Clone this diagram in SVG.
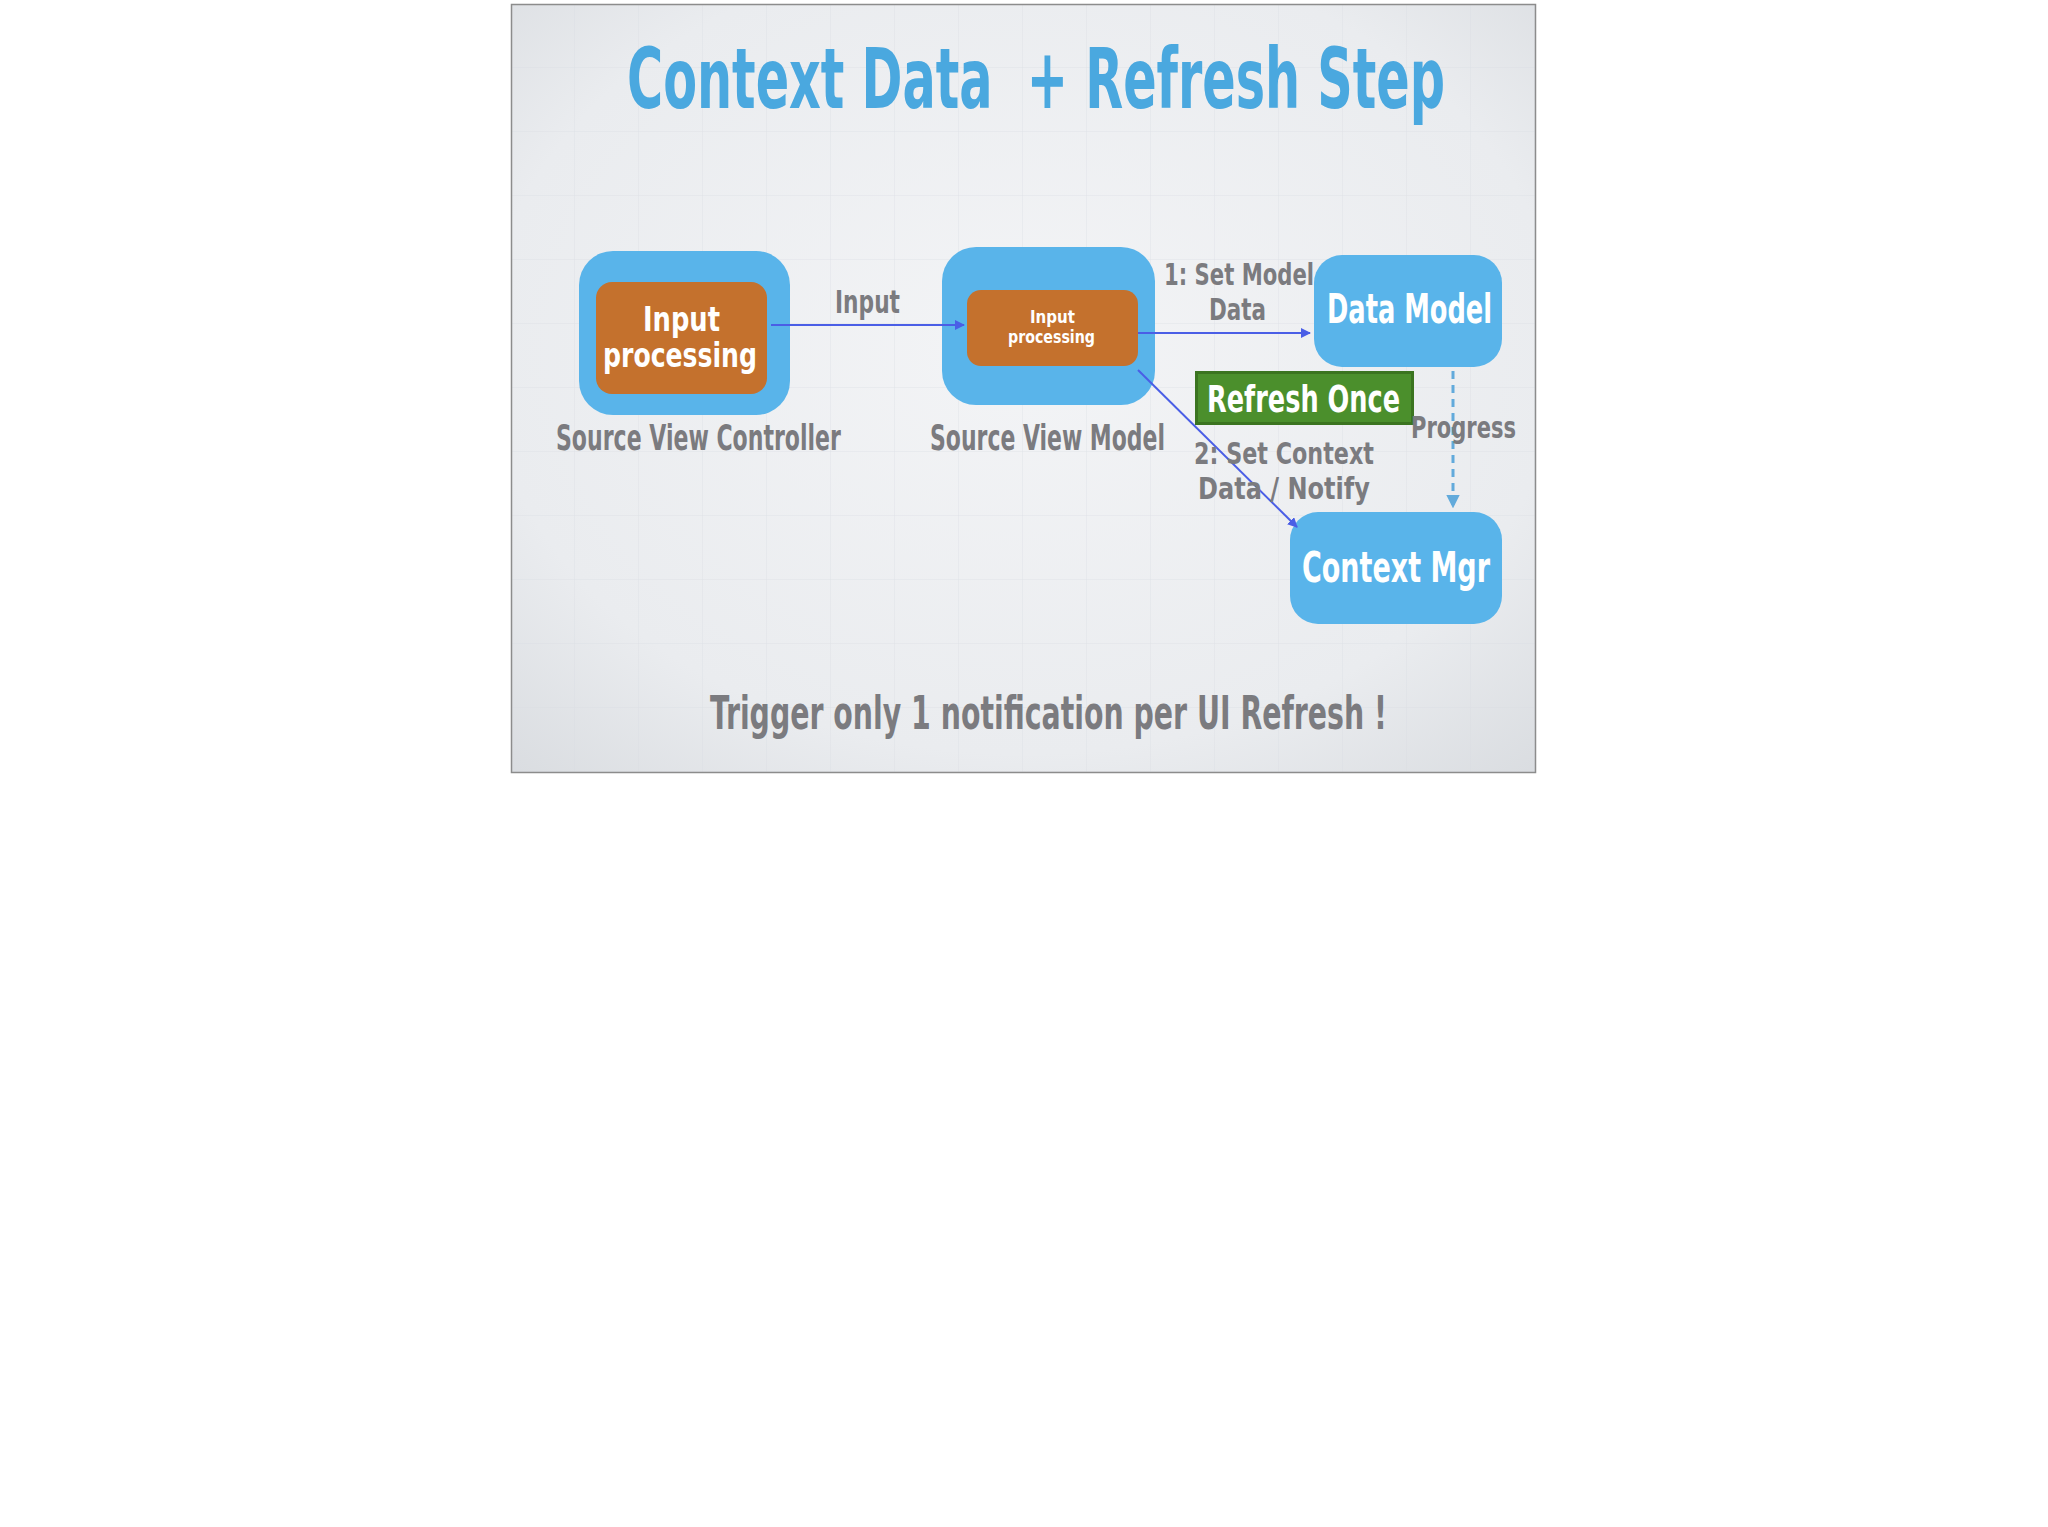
<svg xmlns="http://www.w3.org/2000/svg" width="2048" height="1527" viewBox="0 0 2048 1527">
  <defs>
    <radialGradient id="bg" cx="0.5" cy="0.45" r="0.75">
      <stop offset="0" stop-color="#f3f4f6"/>
      <stop offset="0.7" stop-color="#eaecef"/>
      <stop offset="1" stop-color="#d9dce0"/>
    </radialGradient>
    <pattern id="grid" width="64" height="64" patternUnits="userSpaceOnUse" x="511" y="4">
      <path d="M64 0V64M0 64H64" fill="none" stroke="#d6dadf" stroke-width="1" opacity="0.6"/>
    </pattern>
    <marker id="ah" viewBox="0 0 10 10" refX="9" refY="5" markerWidth="5" markerHeight="5" orient="auto" markerUnits="strokeWidth">
      <path d="M0 0L10 5L0 10z" fill="#4a5ee6"/>
    </marker>
    <marker id="ahd" viewBox="0 0 10 10" refX="9" refY="5" markerWidth="4.5" markerHeight="4.5" orient="auto" markerUnits="strokeWidth">
      <path d="M0 0L10 5L0 10z" fill="#62aadb"/>
    </marker>
  </defs>
  <style>
    text { font-family: "Liberation Sans Narrow", "DejaVu Sans Condensed", "Liberation Sans", sans-serif; font-weight: bold; }
    .blue { fill: #59b4ea; }
    .orange { fill: #c4712d; }
    .white { fill: #ffffff; }
    .gray { fill: #7b7b7f; }
    .title { fill: #4aa8df; }
    .conn { stroke: #4a5ee6; stroke-width: 2; fill: none; }
    .dash { stroke: #62aadb; stroke-width: 3; stroke-dasharray: 8 6; fill: none; }
  </style>
  <rect x="0" y="0" width="2048" height="1527" fill="#ffffff"/>
  <rect x="511" y="4" width="1025" height="769" fill="url(#bg)"/>
  <rect x="511" y="4" width="1025" height="769" fill="url(#grid)"/>
  <rect x="511.5" y="4.5" width="1024" height="768" fill="none" stroke="#8c8c8c" stroke-width="1.5"/>

  <text class="title" x="627" y="108" font-size="84" textLength="818" lengthAdjust="spacingAndGlyphs" xml:space="preserve">Context Data  + Refresh Step</text>

  <g id="svc">
    <rect class="blue" x="579" y="251" width="211" height="164" rx="34"/>
    <rect class="orange" x="596" y="282" width="171" height="112" rx="16"/>
    <text class="white" x="681.5" y="331" font-size="33" text-anchor="middle" textLength="77" lengthAdjust="spacingAndGlyphs">Input</text>
    <text class="white" x="680" y="367" font-size="33" text-anchor="middle" textLength="154" lengthAdjust="spacingAndGlyphs">processing</text>
    <text class="gray" transform="translate(556 450) scale(0.68 1)" font-size="36" textLength="419" lengthAdjust="spacingAndGlyphs">Source View Controller</text>
  </g>

  <g id="svm">
    <rect class="blue" x="942" y="247" width="213" height="158" rx="34"/>
    <rect class="orange" x="967" y="290" width="171" height="76" rx="14"/>
    <text class="white" x="1052.5" y="323" font-size="17" text-anchor="middle" textLength="45" lengthAdjust="spacingAndGlyphs">Input</text>
    <text class="white" x="1051.5" y="343" font-size="17" text-anchor="middle" textLength="87" lengthAdjust="spacingAndGlyphs">processing</text>
    <text class="gray" transform="translate(930 450) scale(0.66 1)" font-size="36" textLength="356" lengthAdjust="spacingAndGlyphs">Source View Model</text>
  </g>

  <g id="datamodel">
    <rect class="blue" x="1314" y="255" width="188" height="112" rx="28"/>
    <text class="white" x="1327" y="323" font-size="40" textLength="165" lengthAdjust="spacingAndGlyphs">Data Model</text>
  </g>

  <g id="contextmgr">
    <rect class="blue" x="1290" y="512" width="212" height="112" rx="28"/>
    <text class="white" x="1302" y="582" font-size="42" textLength="188" lengthAdjust="spacingAndGlyphs">Context Mgr</text>
  </g>

  <g id="refresh">
    <rect x="1196.5" y="372.5" width="216" height="51" fill="#4b8f2c" stroke="#3b7420" stroke-width="3"/>
    <text class="white" transform="translate(1207 412) scale(0.74 1)" font-size="38" textLength="261" lengthAdjust="spacingAndGlyphs">Refresh Once</text>
  </g>

  <g id="connectors">
    <line class="conn" x1="771" y1="325" x2="964" y2="325" marker-end="url(#ah)"/>
    <line class="conn" x1="1138" y1="333" x2="1310" y2="333" marker-end="url(#ah)"/>
    <line class="conn" x1="1138" y1="370" x2="1297" y2="527" marker-end="url(#ah)"/>
    <line class="dash" x1="1453" y1="371" x2="1453" y2="507" marker-end="url(#ahd)"/>
    <text class="gray" x="835" y="313" font-size="32" textLength="65" lengthAdjust="spacingAndGlyphs">Input</text>
    <text class="gray" x="1164" y="285" font-size="31" textLength="150" lengthAdjust="spacingAndGlyphs">1: Set Model</text>
    <text class="gray" x="1209" y="320" font-size="31" textLength="57" lengthAdjust="spacingAndGlyphs">Data</text>
    <text class="gray" x="1411" y="438" font-size="31" textLength="105" lengthAdjust="spacingAndGlyphs">Progress</text>
    <text class="gray" x="1194" y="464" font-size="31" textLength="180" lengthAdjust="spacingAndGlyphs">2: Set Context</text>
    <text class="gray" x="1198" y="499" font-size="31" textLength="172" lengthAdjust="spacingAndGlyphs">Data / Notify</text>
  </g>

  <text class="gray" x="710" y="729" font-size="46" textLength="677" lengthAdjust="spacingAndGlyphs">Trigger only 1 notification per UI Refresh !</text>
</svg>
